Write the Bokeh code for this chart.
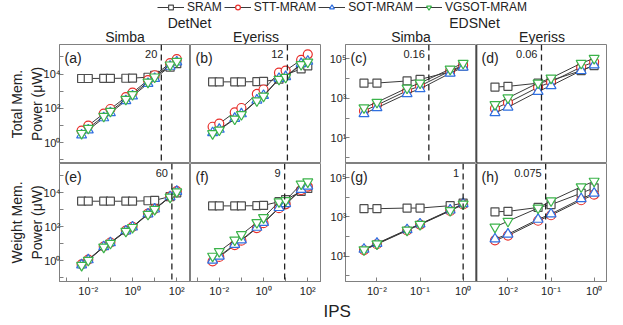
from bokeh.plotting import figure
from bokeh.models import (Range1d, FixedTicker, CustomJSTickFormatter, Span, Label,
                          Legend, LegendItem, Title)
from bokeh.layouts import column, row
from bokeh.embed import file_html
from bokeh.resources import INLINE

FONT = "Liberation Sans"

# ---------------- data ----------------
series = ["SRAM", "STT-MRAM", "SOT-MRAM", "VGSOT-MRAM"]

ips_detnet = [0.005, 0.01, 0.05, 0.1, 0.5, 1, 5, 10, 50, 100]
ips_edsnet = [0.005, 0.01, 0.05, 0.1, 0.5, 1]

# (a) DetNet / Simba / total memory power (uW)
a_sram = [5.5e3, 5.5e3, 5.6e3, 5.6e3, 5.7e3, 5.8e3, 6.5e3, 8.5e3, 2.5e4, 4.0e4]
a_stt = [5, 10, 50, 92, 450, 820, 4400, 8500, 4.3e4, 7.4e4]
a_sot = [2.8, 5.5, 28, 55, 280, 520, 2800, 5500, 2.8e4, 5.0e4]
a_vgsot = [3.5, 7, 35, 68, 340, 650, 3400, 6800, 3.4e4, 5.5e4]

# (b) DetNet / Eyeriss / total
b_sram = [3.5e3, 3.5e3, 3.5e3, 3.5e3, 3.6e3, 3.7e3, 5.0e3, 9.0e3, 2.0e4, 3.0e4]
b_stt = [8.5, 13, 59, 105, 690, 1260, 1.2e4, 1.6e4, 6.6e4, 1.4e5]
b_sot = [3.8, 6, 26, 48, 300, 560, 5500, 7000, 4.0e4, 5.5e4]
b_vgsot = [3.4, 5.5, 24, 44, 280, 520, 5000, 6500, 3.6e4, 5.0e4]

# (e) DetNet / Simba / weight memory power
e_sram = [3.2e3, 3.2e3, 3.2e3, 3.2e3, 3.2e3, 3.2e3, 3.4e3, 3.6e3, 6.0e3, 1.0e4]
e_stt = [0.62, 1.2, 7, 12, 60, 100, 600, 1150, 6000, 1.25e4]
e_sot = [0.58, 1.15, 6.7, 11.5, 57, 97, 570, 1100, 5800, 1.2e4]
e_vgsot = [0.55, 1.1, 6.5, 11, 55, 93, 550, 1070, 5600, 1.15e4]

# (f) DetNet / Eyeriss / weight
f_sram = [1.7e3, 1.7e3, 1.7e3, 1.7e3, 1.75e3, 1.8e3, 3.0e3, 4.0e3, 1.2e4, 1.8e4]
f_stt = [0.95, 1.7, 8.5, 15.5, 85, 165, 1250, 2100, 1.45e4, 2.3e4]
f_sot = [1.1, 1.9, 9.3, 17, 93, 180, 1350, 2300, 1.55e4, 2.45e4]
f_vgsot = [1.9, 3.6, 17, 35, 180, 350, 3000, 3500, 3.3e4, 4.4e4]

# (c) EDSNet / Simba / total
c_sram = [5.8e3, 5.9e3, 7.5e3, 9.0e3, 2.2e4, 4.2e4]
c_stt = [230, 450, 2400, 4200, 2.4e4, 4.7e4]
c_sot = [165, 330, 1700, 3000, 1.85e4, 3.7e4]
c_vgsot = [330, 630, 3300, 5900, 3.0e4, 5.9e4]

# (d) EDSNet / Eyeriss / total
d_sram = [3.7e3, 4.0e3, 5.8e3, 8.0e3, 2.5e4, 4.5e4]
d_stt = [300, 600, 3600, 6700, 3.8e4, 7.0e4]
d_sot = [185, 355, 2200, 4300, 2.5e4, 4.8e4]
d_vgsot = [480, 1050, 5900, 1.05e4, 5.9e4, 1.05e5]

# (g) EDSNet / Simba / weight
g_sram = [2.6e3, 2.6e3, 2.8e3, 2.8e3, 3.7e3, 5.0e3]
g_stt = [20, 40, 200, 400, 2000, 4300]
g_sot = [22, 44, 220, 430, 2200, 4700]
g_vgsot = [21, 42, 210, 415, 2100, 4500]

# (h) EDSNet / Eyeriss / weight
h_sram = [1.8e3, 1.9e3, 3.0e3, 4.2e3, 1.6e4, 3.0e4]
h_stt = [63, 110, 630, 1200, 7000, 1.35e4]
h_sot = [74, 130, 740, 1400, 8300, 1.6e4]
h_vgsot = [300, 600, 2800, 6600, 3.4e4, 6.6e4]

thresholds = {"a": 20, "b": 12, "c": 0.16, "d": 0.06,
              "e": 60, "f": 9, "g": 1, "h": 0.075}
threshold_labels = {"a": "20", "b": "12", "c": "0.16", "d": "0.06",
                    "e": "60", "f": "9", "g": "1", "h": "0.075"}

# ---------------- style ----------------
colors = ["#4d4d4d", "#e8302c", "#2f6fe0", "#3bb34a"]
markers = ["square", "circle", "triangle", "inverted_triangle"]
sizes = [8, 9, 10, 10]
LINE_C = "#3a3a3a"
FRAME_C = "#808080"
TXT_C = "#222222"

# log10 ranges per group
XR = {"L": (-3.30, 2.62), "R": (-2.73, 0.31)}
YR = {"L": (-1.21, 5.72), "R": (-0.30, 5.72)}
FW = 131
FH = [119, 118]

SUP = {"-": "⁻", "0": "⁰", "1": "¹", "2": "²", "3": "³", "4": "⁴",
       "5": "⁵", "6": "⁶", "7": "⁷", "8": "⁸", "9": "⁹"}
sup_js = "const m = {" + ",".join('"%s":"%s"' % (k, v) for k, v in SUP.items()) + "};"


def fmt(mode):
    cond = {"even": "if (Math.abs(e % 2) !== 0) return '';",
            "odd": "if (Math.abs(e % 2) !== 1) return '';",
            "all": ""}[mode]
    return CustomJSTickFormatter(code=sup_js + """
const e = Math.round(Math.log10(tick));
""" + cond + """
return '10' + String(e).split('').map(c => m[c]).join('');
""")


def xat(g, px):
    lo, hi = XR[g]
    return 10 ** (lo + (hi - lo) * px / FW)


def yat(g, r, px):
    lo, hi = YR[g]
    return 10 ** (hi - (hi - lo) * px / FH[r])


def style_axis(ax):
    ax.axis_line_color = FRAME_C
    ax.major_tick_line_color = FRAME_C
    ax.major_tick_in = 4
    ax.major_tick_out = 0
    ax.minor_tick_line_color = None
    ax.major_label_text_font = FONT
    ax.major_label_text_font_size = "11px"
    ax.major_label_text_color = TXT_C
    ax.axis_label_text_font = FONT
    ax.axis_label_text_font_size = "14px"
    ax.axis_label_text_font_style = "normal"
    ax.axis_label_text_color = TXT_C


def panel(key, g, r, ips, vals, first_col, ylabel=None):
    p = figure(x_axis_type="log", y_axis_type="log",
               x_range=Range1d(10 ** XR[g][0], 10 ** XR[g][1]),
               y_range=Range1d(10 ** YR[g][0], 10 ** YR[g][1]),
               frame_width=FW, frame_height=FH[r],
               min_border_left=(59 if g == "L" else 24) if first_col else 0,
               min_border_right=0, min_border_top=0, min_border_bottom=0,
               toolbar_location=None, output_backend="svg")
    p.grid.visible = False
    p.outline_line_color = FRAME_C
    p.outline_line_width = 1
    p.background_fill_color = "white"
    p.border_fill_color = "white"

    if r == 1:
        style_axis(p.xaxis[0])
        if g == "L":
            p.xaxis.ticker = FixedTicker(ticks=[10.0 ** k for k in range(-3, 3)])
            p.xaxis.formatter = fmt("even")
        else:
            p.xaxis.ticker = FixedTicker(ticks=[0.01, 0.1, 1.0])
            p.xaxis.formatter = fmt("all")
        p.xaxis.major_label_standoff = 3
    else:
        p.xaxis.visible = False
    if first_col:
        style_axis(p.yaxis[0])
        if g == "L":
            p.yaxis.ticker = FixedTicker(ticks=[10.0 ** k for k in range(-1, 6)])
            p.yaxis.formatter = fmt("even")
        else:
            p.yaxis.ticker = FixedTicker(ticks=[10.0 ** k for k in range(0, 6)])
            p.yaxis.formatter = fmt("odd")
        p.yaxis.major_label_standoff = -1
        p.yaxis.major_label_orientation = "horizontal"
        if ylabel:
            p.yaxis.axis_label = ylabel
            p.yaxis.axis_label_standoff = -4
    else:
        p.yaxis.visible = False
        if g == "R":
            # darker divider between the two EDSNet columns
            p.add_layout(Span(location=10 ** XR[g][0], dimension="height",
                              line_color="#111111", line_width=1.5))

    thr = thresholds[key]
    p.add_layout(Span(location=thr, dimension="height", line_color=TXT_C,
                      line_dash="6 4", line_width=1.3))

    for i, v in enumerate(vals):
        p.line(ips, v, line_color=LINE_C, line_width=1)
        p.scatter(ips, v, marker=markers[i], size=sizes[i], line_color=colors[i],
                  fill_color="white", line_width=1.2)

    p.add_layout(Label(x=xat(g, 5), y=yat(g, r, 13), text="(%s)" % key,
                       text_font=FONT, text_font_size="14px", text_color=TXT_C,
                       text_baseline="middle", text_align="left"))
    p.add_layout(Label(x=thr, y=yat(g, r, 9), x_offset=-4, text=threshold_labels[key],
                       text_font=FONT, text_font_size="11px", text_color=TXT_C,
                       text_baseline="middle", text_align="right"))
    return p


pa = panel("a", "L", 0, ips_detnet, [a_sram, a_stt, a_sot, a_vgsot], True, "Total Mem.\nPower (μW)")
pb = panel("b", "L", 0, ips_detnet, [b_sram, b_stt, b_sot, b_vgsot], False)
pc = panel("c", "R", 0, ips_edsnet, [c_sram, c_stt, c_sot, c_vgsot], True)
pd = panel("d", "R", 0, ips_edsnet, [d_sram, d_stt, d_sot, d_vgsot], False)
pe = panel("e", "L", 1, ips_detnet, [e_sram, e_stt, e_sot, e_vgsot], True, "Weight Mem.\nPower (μW)")
pf = panel("f", "L", 1, ips_detnet, [f_sram, f_stt, f_sot, f_vgsot], False)
pg = panel("g", "R", 1, ips_edsnet, [g_sram, g_stt, g_sot, g_vgsot], True)
ph = panel("h", "R", 1, ips_edsnet, [h_sram, h_stt, h_sot, h_vgsot], False)

# common x-axis title, placed in the side panel below (g) and shifted left
pg.add_layout(Title(text="IPS", align="left", offset=-22, standoff=0,
                    text_font=FONT, text_font_size="17px", text_font_style="normal",
                    text_color=TXT_C), "below")

# ---------------- header (legend + titles) ----------------
HW, HH = 607, 44
hdr = figure(width=HW, height=HH, x_range=Range1d(0, HW), y_range=Range1d(0, HH),
             min_border=0, toolbar_location=None, output_backend="svg")
hdr.axis.visible = False
hdr.grid.visible = False
hdr.outline_line_color = None

# legend renderers reuse series (c); their values lie far outside the header's range
items = []
for i, (name, v) in enumerate(zip(series, [c_sram, c_stt, c_sot, c_vgsot])):
    lr = hdr.line(ips_edsnet, v, line_color=LINE_C, line_width=1)
    sr = hdr.scatter(ips_edsnet, v, marker=markers[i], size=sizes[i],
                     line_color=colors[i], fill_color="white", line_width=1.2)
    items.append(LegendItem(label=name, renderers=[lr, sr]))
leg = Legend(items=items, orientation="horizontal", location=(157, 30),
             padding=0, margin=0, spacing=2, glyph_width=27, glyph_height=12,
             label_height=12, label_standoff=3, border_line_color=None,
             background_fill_alpha=0, label_text_font=FONT, label_text_font_size="12px",
             label_text_color=TXT_C)
hdr.add_layout(leg)

titles = [("DetNet", 189, 22), ("EDSNet", 474, 22),
          ("Simba", 124.5, 8), ("Eyeriss", 255.5, 8),
          ("Simba", 410.5, 8), ("Eyeriss", 541.5, 8)]
for t, x, y in titles:
    hdr.add_layout(Label(x=x, y=y, text=t, text_font=FONT, text_font_size="14px",
                         text_color=TXT_C, text_align="center", text_baseline="middle"))

layout = column(hdr,
                row(pa, pb, pc, pd, spacing=0),
                row(pe, pf, pg, ph, spacing=0),
                spacing=0)

open("out.html", "w").write(file_html(layout, INLINE))
